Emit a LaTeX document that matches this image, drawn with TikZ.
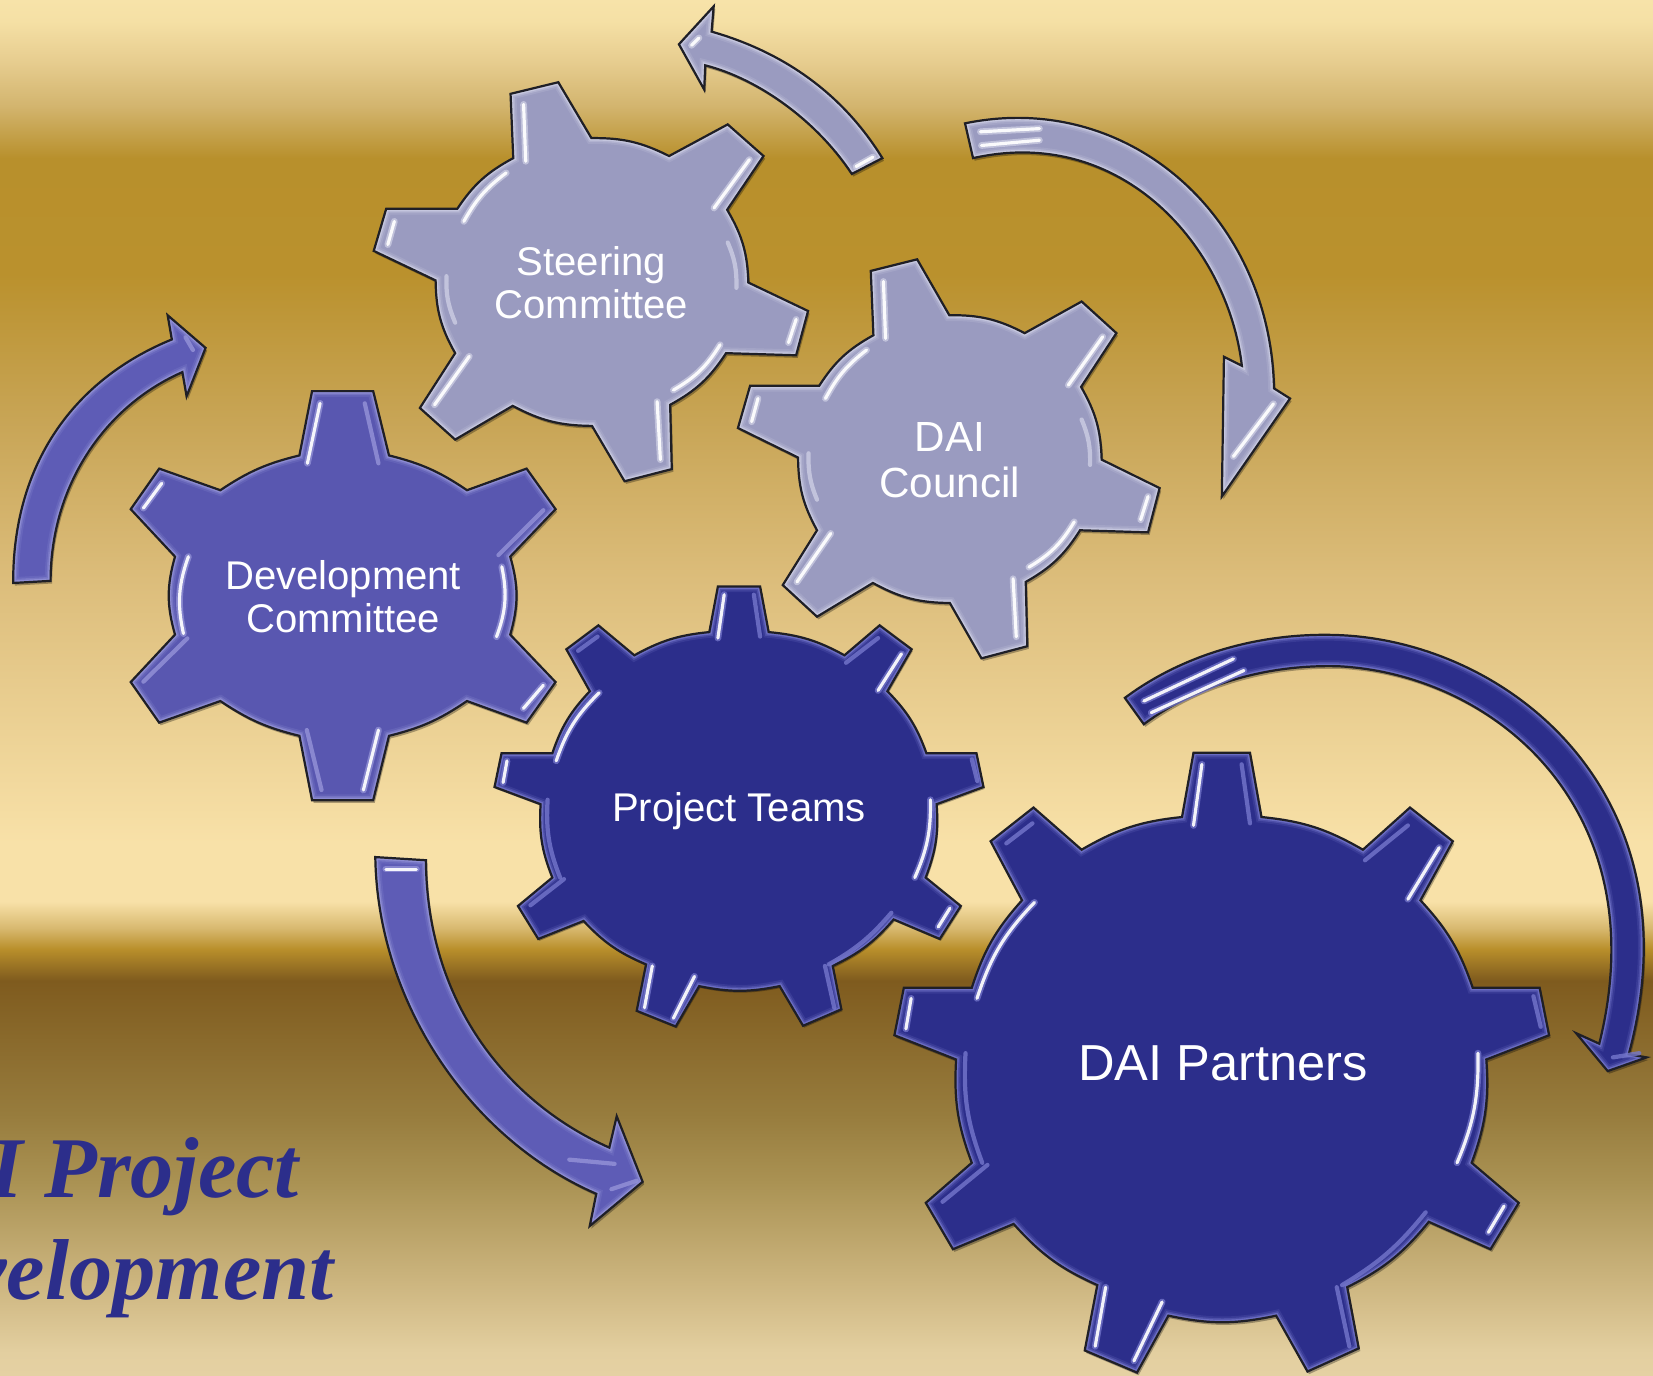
\documentclass[tikz,border=0pt]{standalone}
\usepackage{fontspec}
\setmainfont{Liberation Sans}
\newfontfamily\titlefont{Liberation Serif}
\definecolor{bA}{HTML}{F7E3A9}\definecolor{bB}{HTML}{F5E0A5}\definecolor{bC}{HTML}{E6CC8E}
\definecolor{bD}{HTML}{D3B56F}\definecolor{bE}{HTML}{B8902C}\definecolor{bF}{HTML}{BA912D}
\definecolor{bG}{HTML}{C8A556}\definecolor{bH}{HTML}{DCBD7B}\definecolor{bI}{HTML}{F8E1A8}
\definecolor{bJ}{HTML}{F8E1A8}\definecolor{bK}{HTML}{D8B970}\definecolor{bL}{HTML}{B98F2B}
\definecolor{bM}{HTML}{7F5B1E}\definecolor{bN}{HTML}{977C3D}\definecolor{bO}{HTML}{AA9253}
\definecolor{bP}{HTML}{CDB680}\definecolor{bQ}{HTML}{E3CFA0}\definecolor{bR}{HTML}{E5D1A3}
\pgfdeclareverticalshading{bgsh}{100bp}{color(0bp)=(bR); color(25bp)=(bR); color(25.84bp)=(bQ);
 color(28.33bp)=(bP); color(32.05bp)=(bO); color(34.54bp)=(bN); color(39.37bp)=(bM); color(40.52bp)=(bL);
 color(41.28bp)=(bK); color(42.24bp)=(bJ); color(44.35bp)=(bI); color(53.93bp)=(bH); color(59.67bp)=(bG);
 color(65.04bp)=(bF); color(69.25bp)=(bE); color(71.17bp)=(bD); color(72.7bp)=(bC); color(74.23bp)=(bB);
 color(75bp)=(bA); color(100bp)=(bA)}
\definecolor{paleFill}{HTML}{9A9BC0}\definecolor{paleEdge}{HTML}{CDCEE4}
\definecolor{midFill}{HTML}{5957B0}\definecolor{midEdge}{HTML}{9594D8}\definecolor{arrowFill}{HTML}{5E5CB6}
\definecolor{deepFill}{HTML}{2C2E8B}\definecolor{deepEdge}{HTML}{7577CC}
\definecolor{outlineC}{HTML}{1F1F26}
% gear outlines, clockwise on the page
\def\sixgear{(826,257) -- (870,246) -- (900.5,299) to[bend left=14] (972,316) -- (1026,286) -- (1059,316) -- (1025.5,367) to[bend left=14] (1045,436) -- (1100,463) -- (1089,505) -- (1024.5,503) to[bend left=14] (973,552) -- (974.5,613) -- (931,624.5) -- (901,572) to[bend left=14] (828,553) -- (775,585) -- (742.5,555) -- (775,503) to[bend left=14] (757,434) -- (700,406) -- (711.5,366) -- (777,366) to[bend left=14] (828.5,318) -- cycle}
\def\devgear{(296,371) -- (354,371) -- (369,432) to[bend left=10] (443,465) -- (499.5,444.5) -- (527,483) -- (484,528) to[bend left=16] (484,602) -- (527,647) -- (499.5,685.5) -- (443,665) to[bend left=10] (369,698) -- (354,759) -- (296,759) -- (284,698) to[bend left=10] (209,665) -- (151,685.5) -- (124,647) -- (166,602) to[bend left=16] (166,528) -- (124,483) -- (151,444.5) -- (209,465) to[bend left=10] (284,432) -- cycle}
\def\eightgear{(1135,714) -- (1189,714) -- (1200,775) to[bend left=12] (1297,806) -- (1342,766) -- (1383,798) -- (1352,854) to[bend left=12] (1402,937) -- (1466,937) -- (1475,982) -- (1415,1005) to[bend left=12] (1401,1103) -- (1446,1141) -- (1419,1185) -- (1360,1159) to[bend left=12] (1282,1221) -- (1293,1279) -- (1244,1301) -- (1214,1248) to[bend left=12] (1111,1248) -- (1081,1302) -- (1031,1281) -- (1043,1219) to[bend left=12] (963,1161) -- (905,1185) -- (879,1141) -- (923,1103) to[bend left=12] (908,1005) -- (849,982) -- (858,937) -- (923,937) to[bend left=12] (971,854) -- (941,798) -- (982,766) -- (1028,806) to[bend left=12] (1124,775) -- cycle}
% arrow outlines
\def\arrowtop{(837,150) .. controls (800,90) and (745,50) .. (675,30) -- (677,6) -- (644,42) -- (668,85) -- (669,62) .. controls (720,75) and (775,115) .. (808,165) -- cycle}
\def\arrowright{(915.4,117) .. controls (1070,85) and (1205,205) .. (1208.5,368.4) -- (1223.7,378) -- (1159,471) -- (1161,338.4) -- (1178,347) .. controls (1165,235) and (1065,118) .. (923,150) -- cycle}
\def\arrowleft{(12.5,553) .. controls (12,440) and (70,360) .. (163,322) -- (159,299) -- (195,330) -- (177,376) -- (173,353) .. controls (100,385) and (48,460) .. (48,551) -- cycle}
\def\arrowdown{(356,813) .. controls (358,950) and (445,1080) .. (565.6,1132.4) -- (559.4,1163) -- (609.6,1121) -- (585,1058.8) -- (578,1088.6) .. controls (480,1045) and (405,950) .. (404,816) -- cycle}
\def\arrowbig{(1067,662) .. controls (1130,615) and (1210,598) .. (1280,603) .. controls (1440,615) and (1610,760) .. (1545,1000) -- (1562,1003) -- (1525,1016) -- (1495,980) -- (1517,990) .. controls (1572,770) and (1420,640) .. (1270,632) .. controls (1200,630) and (1135,650) .. (1085,687) -- cycle}
% bevelled shape: #1 path, #2 fill, #3 edge tint
\newcommand\bevelled[3]{%
  \fill[black,opacity=.3,shift={(1.5,2.5)}] #1;
  \begin{scope}\clip #1;
    \fill[#2] #1;
    \draw[#3,line width=5.5pt,opacity=.18] #1;
    \draw[#3,line width=3.8pt,opacity=.35] #1;
    \draw[#3,line width=2.4pt,opacity=.75] #1;
  \end{scope}
  \draw[outlineC,line width=1.05pt,line join=miter] #1;}
% streak: #1 glow colour, #2 path; bright core
\newcommand\streak[2]{%
  \draw[#1,line width=3.2pt,opacity=.75,line cap=round] #2;
  \draw[white,line width=1.5pt,opacity=.92,line cap=round] #2;}
\newcommand\faint[2]{\draw[#1,line width=2pt,opacity=.8,line cap=round] #2;}
\newcommand\sixstreaks[1]{%
  \streak{#1}{(838,267) -- (840,321)}
  \streak{#1}{(1046,319.4) -- (1013.4,365.3)}
  \streak{#1}{(1089,471) -- (1082,493)}
  \streak{#1}{(1019,495) to[bend left=14] (976,538)}
  \streak{#1}{(961,549) -- (964,604)}
  \streak{#1}{(788,506) -- (756,552)}
  \streak{#1}{(719,378) -- (713,400)}
  \faint{#1}{(775,474) to[bend left=12] (767,430)}
  \streak{#1}{(783,378) to[bend left=12] (822,332)}
  \faint{#1}{(1026,398) to[bend left=12] (1034,441)}}
\newcommand\eightstreaks[1]{%
  \streak{#1}{(1143,725) -- (1135,783)}
  \faint{#1}{(1181,725) -- (1189,781)}
  \streak{#1}{(1370,804) -- (1340,853)}
  \faint{#1}{(1340,783) -- (1299,816)}
  \faint{#1}{(981,781) -- (956,800)}
  \streak{#1}{(928,947) to[bend left=13] (983,856)}
  \streak{#1}{(865,947) -- (860,976)}
  \faint{#1}{(933,1103) to[bend left=12] (917,999)}
  \faint{#1}{(938,1105) -- (895,1140)}
  \streak{#1}{(1407,999) to[bend left=12] (1387,1103)}
  \streak{#1}{(1432,1144) -- (1417,1169)}
  \faint{#1}{(1357,1150) to[bend left=10] (1277,1219)}
  \streak{#1}{(1051,1221) -- (1041,1277)}
  \streak{#1}{(1105,1235) -- (1078,1291)}
  \faint{#1}{(1272,1221) -- (1284,1277)}
  \faint{#1}{(1460,945) -- (1467,974)}}
\tikzset{gearlabel/.style={text=white,align=center,inner sep=0pt},
  titletext/.style={text=deepFill,inner sep=0pt,anchor=base east,font=\titlefont\bfseries\itshape\fontsize{41}{41}\selectfont}}
\begin{document}
\begin{tikzpicture}[x=.5pt,y=-.5pt]
\useasboundingbox (0,0) rectangle (1568,1305.2);
\clip (0,0) rectangle (1568,1305.2);
\shade[shading=bgsh] (0,0) rectangle (1568,1305.2);
% arrows
\bevelled{\arrowtop}{paleFill}{paleEdge}
\streak{paleEdge}{(663,36) -- (656,43)}
\streak{paleEdge}{(812,158) -- (828,149)}
\bevelled{\arrowright}{paleFill}{paleEdge}
\streak{paleEdge}{(930,125) -- (986,122)}
\streak{paleEdge}{(931,138) -- (986,133)}
\streak{paleEdge}{(1208,383) -- (1170,433)}
\bevelled{\arrowleft}{arrowFill}{midEdge}
\faint{midEdge}{(176,320) -- (183,332)}
\bevelled{\arrowdown}{arrowFill}{midEdge}
\streak{midEdge}{(366,824.4) -- (395,824.4)}
\faint{midEdge}{(540,1100) -- (583,1104)}
\faint{midEdge}{(580,1128) -- (604,1120)}
\bevelled{\arrowbig}{deepFill}{deepEdge}
\streak{deepEdge}{(1085,665) -- (1170,625)}
\streak{deepEdge}{(1092,676) -- (1180,636)}
\faint{deepEdge}{(1530,1003) -- (1555,999)}
% gears
\begin{scope}[shift={(560.5,268)},xscale=1.03,shift={(-900,-436)}]
  \bevelled{\sixgear}{paleFill}{paleEdge}
  \sixstreaks{paleEdge}
\end{scope}
\bevelled{\sixgear}{paleFill}{paleEdge}
\sixstreaks{paleEdge}
\bevelled{\devgear}{midFill}{midEdge}
\streak{midEdge}{(303.6,382.6) -- (291.6,439.5)}
\faint{midEdge}{(346,382.6) -- (359,439.5)}
\streak{midEdge}{(153.4,458.5) -- (136,482)}
\faint{midEdge}{(515.4,484) -- (472.8,526.5)}
\streak{midEdge}{(174,601) to[bend left=16] (178.7,528)}
\streak{midEdge}{(476,537.6) to[bend left=16] (471,604)}
\faint{midEdge}{(177.7,605.6) -- (136,646.6)}
\streak{midEdge}{(515.4,650) -- (496.5,672)}
\streak{midEdge}{(359,692.5) -- (344.7,749.4)}
\faint{midEdge}{(291,692.5) -- (305,749.4)}
\begin{scope}[shift={(701,765)},xscale=.741,yscale=.71,shift={(-1162,-1008)}]
  \bevelled{\eightgear}{deepFill}{deepEdge}
  \eightstreaks{deepEdge}
\end{scope}
\begin{scope}[shift={(787.3,0)},xscale=.992,shift={(-787.4,0)}]
  \bevelled{\eightgear}{deepFill}{deepEdge}
  \eightstreaks{deepEdge}
\end{scope}
% labels
\node[gearlabel,font=\fontsize{19}{20.5}\selectfont] (steering) at (561,268.5) {Steering\\Committee};
\node[gearlabel,font=\fontsize{20}{21.8}\selectfont] (council) at (901,436.5) {DAI\\Council};
\node[gearlabel,font=\fontsize{19}{20.5}\selectfont] (development) at (325.5,566) {Development\\Committee};
\node[gearlabel,font=\fontsize{19}{20.5}\selectfont] (teams) at (701,769) {Project Teams};
\node[gearlabel,font=\fontsize{24}{26}\selectfont] (partners) at (1160,1009) {DAI Partners};
\node[titletext] (titleA) at (284,1135.6) {I Project};
\node[titletext] (titleB) at (316.7,1233) {velopment};
\end{tikzpicture}
\end{document}
